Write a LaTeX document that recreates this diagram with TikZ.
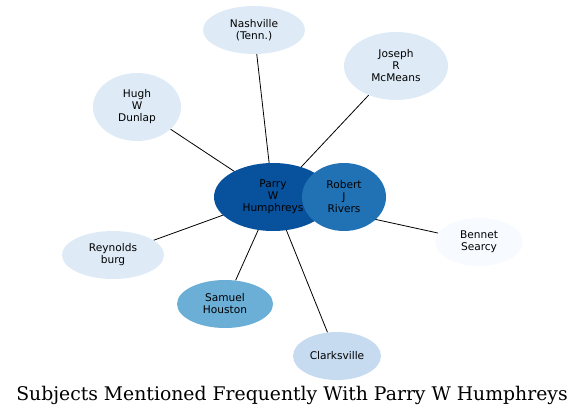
\documentclass[tikz,border=0pt]{standalone}
\usepackage{fontspec}
\newfontfamily\nodefont{DejaVu Sans}
\newfontfamily\titlefont{DejaVu Serif}
\usepackage{xcolor}
\usepackage{tikz}
\usetikzlibrary{shapes.geometric,backgrounds}
\definecolor{azulosc}{HTML}{08519C}
\definecolor{azulmed}{HTML}{2171B5}
\definecolor{azulcla}{HTML}{6BAED6}
\definecolor{azulpal}{HTML}{C6DBEF}
\definecolor{azulbg}{HTML}{DEEBF7}
\definecolor{azulbla}{HTML}{F7FBFF}

\begin{document}
\begin{tikzpicture}[x=1pt, y=-1pt,
  tema/.style={ellipse, draw=none, inner sep=0pt, align=center,
    font=\nodefont\fontsize{10.6}{12}\selectfont},
  arista/.style={draw=black, line width=0.8pt}]
  \useasboundingbox (0,0) rectangle (585,417);
  % nodos
  \node[tema, fill=azulosc, minimum width=118pt, minimum height=68pt] (parry) at (273,197) {Parry\\W\\Humphreys};
  \node[tema, fill=azulmed, minimum width=84pt, minimum height=68pt] (rivers) at (344,197) {Robert\\J\\Rivers};
  \node[tema, fill=azulbg, minimum width=102pt, minimum height=48pt] (nash) at (254,30) {Nashville\\(Tenn.)};
  \node[tema, fill=azulbg, minimum width=104pt, minimum height=68pt] (mcmeans) at (396,66) {Joseph\\R\\McMeans};
  \node[tema, fill=azulbg, minimum width=88pt, minimum height=68pt] (dunlap) at (137,107) {Hugh\\W\\Dunlap};
  \node[tema, fill=azulbg, minimum width=102pt, minimum height=48pt] (reyn) at (113,255) {Reynolds\\burg};
  \node[tema, fill=azulcla, minimum width=96pt, minimum height=48pt] (houston) at (225,304) {Samuel\\Houston};
  \node[tema, fill=azulpal, minimum width=88pt, minimum height=48pt] (clarks) at (337,356) {Clarksville};
  \node[tema, fill=azulbla, minimum width=88pt, minimum height=48pt] (searcy) at (479,242) {Bennet\\Searcy};
  % aristas
  \begin{scope}[on background layer]
    \foreach \destino in {nash,mcmeans,dunlap,reyn,houston,clarks,searcy}
      \draw[arista] (parry.center) -- (\destino);
  \end{scope}
  \node[font=\titlefont\fontsize{18.8}{20}\selectfont] (titulo) at (292,395) {Subjects Mentioned Frequently With Parry W Humphreys};
\end{tikzpicture}
\end{document}
